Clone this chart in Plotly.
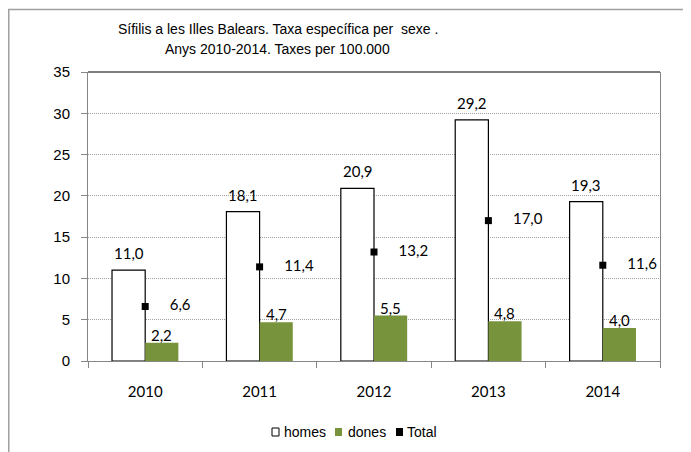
import plotly.graph_objects as go

years = ["2010", "2011", "2012", "2013", "2014"]
homes = [11.0, 18.1, 20.9, 29.2, 19.3]
dones = [2.2, 4.7, 5.5, 4.8, 4.0]
total = [6.6, 11.4, 13.2, 17.0, 11.6]
yticks = [0, 5, 10, 15, 20, 25, 30, 35]
series_names = ["homes", "dones", "Total"]
series_colors = ["white", "#77933C", "black"]
title_lines = ["Sífilis a les Illes Balears. Taxa específica per  sexe .",
               "Anys 2010-2014. Taxes per 100.000"]

# the page body has an 8px default margin; lay the figure out so page pixels match
OFF = 8
PAGE_W, PAGE_H = 691, 452
W, H = PAGE_W - OFF, PAGE_H - OFF
# plot area in page pixels: x 88..660, y 72..361
L, T = 88 - OFF, 72 - OFF
R, B = W - (660 - OFF), H - (361 - OFF)
pw, ph = W - L - R, H - T - B

def fmt(v):
    return f"{v:.1f}".replace(".", ",")

def px2paper_x(page_px):
    return (page_px - OFF - L) / pw

def px2paper_y(page_py):
    return (H - B - (page_py - OFF)) / ph

label_font = dict(family="Lato, Carlito, Liberation Sans", size=15, color="black")
text_font = dict(family="Liberation Sans, Arial", size=14, color="black")

fig = go.Figure()
fig.add_trace(go.Bar(
    x=years, y=homes, name=series_names[0],
    marker=dict(color=series_colors[0], line=dict(color="black", width=1.2)),
    showlegend=False,
))
fig.add_trace(go.Bar(
    x=years, y=dones, name=series_names[1],
    marker=dict(color=series_colors[1], line=dict(width=0)),
    showlegend=False,
))
fig.add_trace(go.Scatter(
    x=years, y=total, name=series_names[2], mode="markers+text",
    marker=dict(symbol="square", size=7, color=series_colors[2]),
    text=["     " + fmt(v) for v in total],
    textposition="middle right", textfont=label_font,
    cliponaxis=False, showlegend=False,
))

annotations = [
    dict(text=title_lines[0], xref="paper", yref="paper",
         x=px2paper_x(278), y=px2paper_y(29), xanchor="center", yanchor="middle",
         showarrow=False, font=text_font),
    dict(text=title_lines[1], xref="paper", yref="paper",
         x=px2paper_x(277), y=px2paper_y(49), xanchor="center", yanchor="middle",
         showarrow=False, font=text_font),
]
# value labels above bars (category index positions)
for i, v in enumerate(homes):
    annotations.append(dict(text=fmt(v), x=i, y=v, xref="x", yref="y",
                            xshift=-16.5, yshift=6, yanchor="bottom", xanchor="center",
                            showarrow=False, font=label_font))
for i, v in enumerate(dones):
    annotations.append(dict(text=fmt(v), x=i, y=v, xref="x", yref="y",
                            xshift=16.5, yshift=-3, yanchor="bottom", xanchor="center",
                            showarrow=False, font=label_font))

shapes = [
    dict(type="line", xref="paper", yref="paper", x0=0, x1=1, y0=1, y1=1,
         line=dict(color="black", width=1.2)),
    dict(type="line", xref="paper", yref="paper",
         x0=px2paper_x(OFF), x1=px2paper_x(PAGE_W + 5), y0=px2paper_y(9.5), y1=px2paper_y(9.5),
         line=dict(color="#A0A0A0", width=1.5)),
    dict(type="line", xref="paper", yref="paper",
         x0=px2paper_x(OFF + 0.75), x1=px2paper_x(OFF + 0.75), y0=px2paper_y(9.5),
         y1=px2paper_y(PAGE_H + 5),
         line=dict(color="#A0A0A0", width=1.5)),
]

# compact legend
legend_items = [(272, 282), (335, 346), (396, 405)]  # symbol left px, text left px (page)
ly = 432
for (sx, tx), name, col in zip(legend_items, series_names, series_colors):
    shapes.append(dict(type="rect", xref="paper", yref="paper",
                       x0=px2paper_x(sx), x1=px2paper_x(sx + 7),
                       y0=px2paper_y(ly + 4), y1=px2paper_y(ly - 4),
                       fillcolor=col, line=dict(color="black", width=1 if col == "white" else 0)))
    annotations.append(dict(text=name, xref="paper", yref="paper",
                            x=px2paper_x(tx), y=px2paper_y(ly), xanchor="left", yanchor="middle",
                            showarrow=False, font=text_font))

fig.update_layout(
    width=W, height=H,
    margin=dict(l=L, r=R, t=T, b=B, pad=0, autoexpand=False),
    paper_bgcolor="white", plot_bgcolor="white",
    barmode="group", bargap=0.42, bargroupgap=0,
    showlegend=False,
    font=text_font,
    xaxis=dict(
        type="category", categoryorder="array", categoryarray=years,
        range=[-0.5, len(years) - 0.5], autorange=False, tickangle=0,
        showline=True, linecolor="#868686", linewidth=1,
        ticks="outside", tickson="boundaries", ticklen=6, tickcolor="#868686",
        showgrid=False, ticklabelstandoff=17, automargin=False,
        tickfont=dict(family="Lato, Carlito, Liberation Sans", size=15, color="black"),
    ),
    yaxis=dict(
        range=[0, 35], autorange=False, tickvals=yticks, showline=True, linecolor="#868686",
        linewidth=1, mirror=True, ticks="outside", ticklen=6, tickcolor="#868686",
        showgrid=True, gridcolor="#A0A0A0", griddash="1px,1px", gridwidth=1,
        zeroline=False, ticklabelstandoff=8, automargin=False,
        tickfont=dict(family="Liberation Sans, Arial", size=15, color="black"),
    ),
    shapes=shapes,
    annotations=annotations,
)

fig.write_html("out.html")
